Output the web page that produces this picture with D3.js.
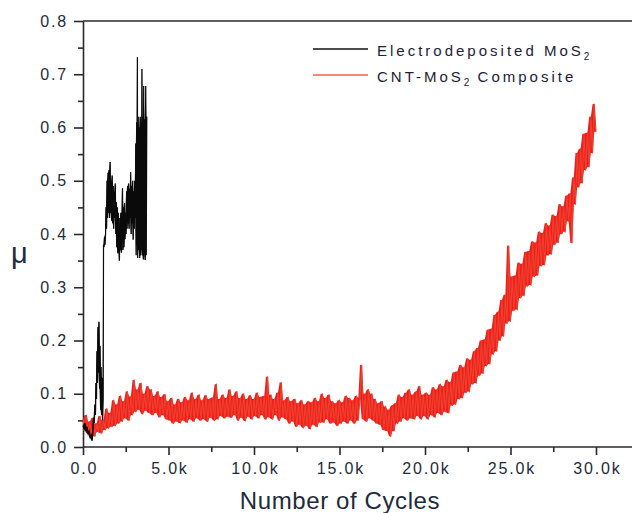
<!DOCTYPE html>
<html>
<head>
<meta charset="utf-8">
<script src="https://cdn.jsdelivr.net/npm/d3@7"></script>
<style>
  body { margin: 0; background: #fff; }
  svg { display: block; font-family: "Liberation Sans", Arial, sans-serif; }
  .tick text { fill: #1e2b3c; font-size: 16px; letter-spacing: 1.8px; }
  .axis path, .axis line { stroke: #2a2a2a; stroke-width: 1.6; }
</style>
</head>
<body>
<svg id="chart" width="632" height="513"></svg>
<script>
// tick values / labels
const xTicks = [0, 5000, 10000, 15000, 20000, 25000, 30000];
const xTickLabels = ["0.0", "5.0k", "10.0k", "15.0k", "20.0k", "25.0k", "30.0k"];
const xMinor = [2500, 7500, 12500, 17500, 22500, 27500, 32500];
const yTicks = [0, 0.1, 0.2, 0.3, 0.4, 0.5, 0.6, 0.7, 0.8];
const yTickLabels = ["0.0", "0.1", "0.2", "0.3", "0.4", "0.5", "0.6", "0.7", "0.8"];
const yMinor = [0.05, 0.15, 0.25, 0.35, 0.45, 0.55, 0.65, 0.75];

// Electrodeposited MoS2 : [cycles, mu]
const blackSeries = [
  [0, 0.040], [60, 0.035], [120, 0.045], [180, 0.030], [240, 0.038], [300, 0.025],
  [360, 0.030], [420, 0.018], [480, 0.022], [540, 0.012], [580, 0.030], [620, 0.055],
  [660, 0.045], [700, 0.080], [730, 0.060], [760, 0.120], [790, 0.090], [820, 0.180],
  [850, 0.120], [880, 0.225], [910, 0.140], [940, 0.235], [970, 0.110], [1000, 0.190],
  [1030, 0.070], [1060, 0.150], [1090, 0.060], [1120, 0.130], [1150, 0.050], [1180, 0.090],
  [1200, 0.380], [1230, 0.375], [1260, 0.395], [1290, 0.380], [1320, 0.400],
  [1350, 0.450], [1380, 0.410], [1410, 0.500], [1440, 0.430], [1470, 0.515],
  [1500, 0.440], [1530, 0.520], [1560, 0.430], [1590, 0.535], [1620, 0.440], [1650, 0.500],
  [1680, 0.425], [1710, 0.510],
  [1740, 0.420], [1770, 0.490], [1800, 0.410], [1830, 0.480], [1860, 0.430], [1890, 0.495],
  [1920, 0.400], [1950, 0.460], [1980, 0.375], [2010, 0.450], [2040, 0.364], [2070, 0.440],
  [2100, 0.380], [2130, 0.350], [2160, 0.430], [2190, 0.370], [2220, 0.440], [2250, 0.365],
  [2280, 0.420], [2310, 0.486],
  [2340, 0.370], [2370, 0.450], [2400, 0.375], [2430, 0.458], [2460, 0.390], [2490, 0.440],
  [2520, 0.400], [2550, 0.480], [2580, 0.410], [2610, 0.490], [2640, 0.420], [2670, 0.495],
  [2700, 0.410], [2730, 0.485], [2760, 0.430], [2790, 0.516],
  [2820, 0.400], [2850, 0.490], [2880, 0.420], [2910, 0.500], [2940, 0.389], [2970, 0.480],
  [3000, 0.410], [3030, 0.500], [3060, 0.430], [3090, 0.570],
  [3110, 0.360], [3140, 0.610], [3160, 0.380], [3180, 0.732], [3200, 0.355], [3230, 0.620],
  [3260, 0.370], [3290, 0.600], [3320, 0.355], [3350, 0.620], [3380, 0.360], [3410, 0.610],
  [3430, 0.370], [3450, 0.710],
  [3480, 0.360], [3510, 0.620], [3530, 0.352], [3550, 0.678], [3580, 0.360], [3610, 0.615],
  [3640, 0.351], [3670, 0.678], [3700, 0.360], [3730, 0.620]
];

// CNT-MoS2 Composite : one reading every 100 cycles, from 0 to 30000
const redStep = 100;
const redMu = [
  0.052, 0.030, 0.060, 0.026, 0.048, 0.022, 0.055, 0.020, 0.044, 0.028,
  0.058, 0.026, 0.050, 0.032, 0.072, 0.035, 0.064, 0.038, 0.088, 0.040,
  0.080, 0.044, 0.096, 0.048, 0.086, 0.054, 0.104, 0.050, 0.095, 0.060,
  0.126, 0.066, 0.108, 0.070, 0.120, 0.062, 0.100, 0.068, 0.114, 0.064,
  0.108, 0.060, 0.096, 0.064, 0.104, 0.056, 0.094, 0.060, 0.099, 0.052,
  0.086, 0.050, 0.092, 0.044, 0.080, 0.048, 0.090, 0.045, 0.084, 0.050,
  0.094, 0.046, 0.088, 0.052, 0.102, 0.048, 0.090, 0.054, 0.098, 0.050,
  0.088, 0.052, 0.097, 0.048, 0.090, 0.055, 0.093, 0.050, 0.118, 0.052,
  0.090, 0.058, 0.098, 0.054, 0.092, 0.057, 0.108, 0.055, 0.096, 0.060,
  0.104, 0.050, 0.092, 0.055, 0.100, 0.049, 0.090, 0.057, 0.097, 0.052,
  0.090, 0.058, 0.102, 0.054, 0.094, 0.060, 0.096, 0.052, 0.132, 0.056,
  0.098, 0.052, 0.090, 0.060, 0.102, 0.050, 0.121, 0.056, 0.088, 0.052,
  0.094, 0.044, 0.086, 0.048, 0.090, 0.038, 0.082, 0.042, 0.088, 0.036,
  0.080, 0.040, 0.086, 0.034, 0.084, 0.042, 0.092, 0.038, 0.086, 0.046,
  0.100, 0.046, 0.092, 0.052, 0.098, 0.044, 0.086, 0.046, 0.082, 0.040,
  0.088, 0.044, 0.084, 0.048, 0.096, 0.044, 0.092, 0.050, 0.088, 0.044,
  0.096, 0.050, 0.092, 0.154, 0.052, 0.100, 0.048, 0.108, 0.054, 0.100,
  0.050, 0.090, 0.044, 0.082, 0.042, 0.086, 0.032, 0.076, 0.030, 0.070,
  0.020, 0.078, 0.030, 0.082, 0.044, 0.098, 0.048, 0.094, 0.054, 0.102,
  0.050, 0.108, 0.054, 0.098, 0.052, 0.104, 0.058, 0.114, 0.052, 0.098,
  0.058, 0.102, 0.052, 0.098, 0.060, 0.112, 0.056, 0.108, 0.064, 0.118,
  0.060, 0.114, 0.066, 0.126, 0.064, 0.122, 0.078, 0.140, 0.080, 0.142,
  0.090, 0.154, 0.092, 0.150, 0.102, 0.166, 0.104, 0.164, 0.118, 0.180,
  0.120, 0.186, 0.134, 0.200, 0.138, 0.202, 0.152, 0.220, 0.156, 0.222,
  0.174, 0.248, 0.180, 0.254, 0.200, 0.276, 0.208, 0.286, 0.232, 0.378,
  0.236, 0.320, 0.256, 0.322, 0.258, 0.346, 0.280, 0.344, 0.284, 0.366,
  0.302, 0.368, 0.304, 0.386, 0.320, 0.384, 0.322, 0.404, 0.340, 0.402,
  0.342, 0.420, 0.360, 0.416, 0.362, 0.436, 0.380, 0.434, 0.384, 0.456,
  0.400, 0.452, 0.404, 0.472, 0.424, 0.476, 0.383, 0.506, 0.456, 0.552,
  0.488, 0.560, 0.496, 0.588, 0.520, 0.590, 0.526, 0.620, 0.552, 0.644,
  0.592
];

const seriesNames = ["Electrodeposited MoS", "CNT-MoS"];

const svg = d3.select("#chart");
const plotLeft = 83, plotTop = 21, plotBottom = 447, plotRight = 640;

let x = d3.scaleLinear().domain([0, 32500]).range([plotLeft, plotLeft + 32500 * (513 / 30000)]);
let y = d3.scaleLinear().domain([0, 0.8]).range([plotBottom, plotTop]);

// top border of the frame
svg.append("line")
    .attr("x1", plotLeft).attr("x2", plotRight)
    .attr("y1", plotTop).attr("y2", plotTop)
    .attr("stroke", "#2a2a2a").attr("stroke-width", 1.6);

// minor ticks first, majors on top
svg.append("g").attr("class", "axis")
    .attr("transform", "translate(0," + plotBottom + ")")
    .call(d3.axisBottom(x).tickValues(xMinor).tickSize(5).tickFormat("").tickSizeOuter(0))
    .select(".domain").remove();
svg.append("g").attr("class", "axis")
    .attr("transform", "translate(" + plotLeft + ",0)")
    .call(d3.axisLeft(y).tickValues(yMinor).tickSize(5).tickFormat("").tickSizeOuter(0))
    .select(".domain").remove();

let xAxis = svg.append("g").attr("class", "axis")
    .attr("transform", "translate(0," + plotBottom + ")")
    .call(d3.axisBottom(x).tickValues(xTicks).tickSize(8).tickSizeOuter(0)
        .tickFormat((d, i) => xTickLabels[i]));
xAxis.select(".domain").attr("d", "M" + plotLeft + ",0H" + plotRight);
xAxis.selectAll(".tick text").attr("y", 16).attr("dy", "0.71em").attr("dx", "0.9px");

let yAxis = svg.append("g").attr("class", "axis")
    .attr("transform", "translate(" + plotLeft + ",0)")
    .call(d3.axisLeft(y).tickValues(yTicks).tickSize(9).tickSizeOuter(0)
        .tickFormat((d, i) => yTickLabels[i]));
yAxis.selectAll(".tick text").attr("x", -15);

// data: the noisy trace is drawn as a line over the band it sweeps
let line = d3.line().x(d => x(d[0])).y(d => y(d[1]));

// span between each reading and the next, so the dense noise reads as a solid band
function sweep(pts) {
    return pts.map((p, i) => {
        let w = pts.slice(i, i + 2).map(q => q[1]);
        return [p[0], d3.min(w), d3.max(w)];
    });
}
let band = d3.area().x(d => x(d[0])).y0(d => y(d[1])).y1(d => y(d[2]));

let redPoints = redMu.map((m, i) => [i * redStep, m]);

svg.append("path")
    .datum(sweep(redPoints))
    .attr("fill", "#ec1f1f")
    .attr("d", band);
svg.append("path")
    .datum(redPoints)
    .attr("fill", "none")
    .attr("stroke", "#f0402c")
    .attr("stroke-width", 1.1)
    .attr("stroke-linejoin", "round")
    .attr("d", line);

svg.append("path")
    .datum(sweep(blackSeries))
    .attr("fill", "#0a0a0a")
    .attr("d", band);
svg.append("path")
    .datum(blackSeries)
    .attr("fill", "none")
    .attr("stroke", "#0a0a0a")
    .attr("stroke-width", 1.2)
    .attr("d", line);

// axis titles
svg.append("text")
    .attr("x", 340).attr("y", 509)
    .attr("text-anchor", "middle")
    .style("font-size", "24px").style("letter-spacing", "0.6px")
    .attr("fill", "#1e2b3c")
    .text("Number of Cycles");

svg.append("text")
    .attr("x", 11).attr("y", 263)
    .style("font-size", "29px")
    .attr("fill", "#1e2b3c")
    .text("\u03bc");

// legend
const legendColors = ["#111111", "#f0604a"];
const legendSuffix = ["", " Composite"];
let legend = svg.append("g");
seriesNames.forEach((name, i) => {
    let ly = 49 + i * 26;
    legend.append("line")
        .attr("x1", 313).attr("x2", 368)
        .attr("y1", ly).attr("y2", ly)
        .attr("stroke", legendColors[i]).attr("stroke-width", 1.5);
    let t = legend.append("text")
        .attr("x", 377).attr("y", ly + 7)
        .attr("fill", "#1c2236")
        .style("font-size", "15px").style("letter-spacing", "3px");
    t.append("tspan").text(name);
    t.append("tspan").attr("dy", 4).style("font-size", "10px").style("letter-spacing", "1px").text("2");
    t.append("tspan").attr("dy", -4).text(legendSuffix[i]);
});
</script>
</body>
</html>
